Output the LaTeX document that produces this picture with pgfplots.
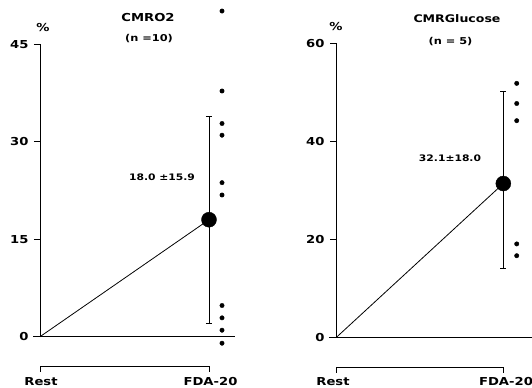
\documentclass[border=0pt]{standalone}
\usepackage{fontspec}
\setmainfont{DejaVu Sans}[FakeStretch=1.2]
\usepackage{pgfplots}
\pgfplotsset{compat=1.18}
\pgfplotsset{panel/.style={
  scale only axis, clip=false,
  axis x line=none, axis y line=left,
  y axis line style={-, line width=0.9pt},
  xmin=0, xmax=1.2,
  tick align=outside, major tick length=6bp,
  ytick style={line width=0.9pt, black},
  /pgf/number format/assume math mode=true,
  yticklabel style={font=\bfseries\fontsize{11}{12}\selectfont, xshift=-2bp},
}}
\begin{document}
\begin{tikzpicture}[font=\bfseries]
\useasboundingbox (0,0) rectangle (532bp,388bp);
% ---------------- left panel: CMRO2
\begin{axis}[panel, at={(40bp,51.3bp)}, anchor=south west,
  width=202.8bp, height=292.5bp, ymin=0, ymax=45, ytick={0,15,30,45}]
\addplot[black, line width=0.9pt] coordinates {(-0.041,0) (1.154,0)};
\addplot[black, line width=0.8pt] coordinates {(0,0) (1,18.0)};
\addplot[black, line width=0.6pt] coordinates {(0,-5.4) (0,-4.6) (1,-4.6) (1,-5.4)};
% error bar: mean 18.0 +- 15.9
\addplot[black, line width=0.6pt] coordinates {(1,2.1) (1,33.9)};
\addplot[black, line width=0.6pt] coordinates {(0.982,2.1) (1.018,2.1)};
\addplot[black, line width=0.6pt] coordinates {(0.982,33.9) (1.018,33.9)};
\addplot[only marks, mark=*, mark size=7.5bp, black] coordinates {(1,18.0)};
\addplot[only marks, mark=*, mark size=2.2bp, black] coordinates {
  (1.077,50.1) (1.077,37.8) (1.077,32.8) (1.077,31.0) (1.077,23.7)
  (1.077,21.8) (1.077,4.8) (1.077,2.9) (1.077,1.0) (1.077,-1.0)};
\end{axis}
% ---------------- right panel: CMRGlucose
\begin{axis}[panel, at={(336bp,50.3bp)}, anchor=south west,
  width=200.8bp, height=294.6bp, ymin=0, ymax=60, ytick={0,20,40,60}]
\addplot[black, line width=0.9pt] coordinates {(-0.042,0) (1.2,0)};
\addplot[black, line width=0.8pt] coordinates {(0,0) (1,31.4)};
\addplot[black, line width=0.6pt] coordinates {(0,-7.1) (0,-6.1) (1,-6.1) (1,-7.1)};
% error bar: mean 32.1 +- 18.0
\addplot[black, line width=0.6pt] coordinates {(1,14.1) (1,50.1)};
\addplot[black, line width=0.6pt] coordinates {(0.982,14.1) (1.018,14.1)};
\addplot[black, line width=0.6pt] coordinates {(0.982,50.1) (1.018,50.1)};
\addplot[only marks, mark=*, mark size=7.5bp, black] coordinates {(1,31.4)};
\addplot[only marks, mark=*, mark size=2.2bp, black] coordinates {
  (1.080,51.8) (1.080,47.7) (1.080,44.2) (1.080,19.1) (1.080,16.7)};
\end{axis}
% ---------------- texts
\node[font=\bfseries\fontsize{11}{13}\selectfont] at (148bp,370bp) {CMRO2};
\node[font=\bfseries\fontsize{9.5}{11}\selectfont] at (149bp,349bp) {(n =10)};
\node[font=\bfseries\fontsize{11}{13}\selectfont] at (43bp,360bp) {\%};
\node[font=\bfseries\fontsize{9}{11}\selectfont] at (162bp,211bp) {18.0 ±15.9};
\node[font=\bfseries\fontsize{11}{13}\selectfont] at (41bp,6.3bp) {Rest};
\node[font=\bfseries\fontsize{11}{13}\selectfont] at (210.5bp,6.3bp) {FDA-20};
\node[font=\bfseries\fontsize{10.5}{13}\selectfont] at (457bp,369bp) {CMRGlucose};
\node[font=\bfseries\fontsize{9.5}{11}\selectfont] at (450.5bp,346bp) {(n = 5)};
\node[font=\bfseries\fontsize{11}{13}\selectfont] at (336bp,361bp) {\%};
\node[font=\bfseries\fontsize{9}{11}\selectfont] at (450bp,230bp) {32.1±18.0};
\node[font=\bfseries\fontsize{11}{13}\selectfont] at (333bp,6.3bp) {Rest};
\node[font=\bfseries\fontsize{11}{13}\selectfont] at (506bp,6.3bp) {FDA-20};
\end{tikzpicture}
\end{document}
